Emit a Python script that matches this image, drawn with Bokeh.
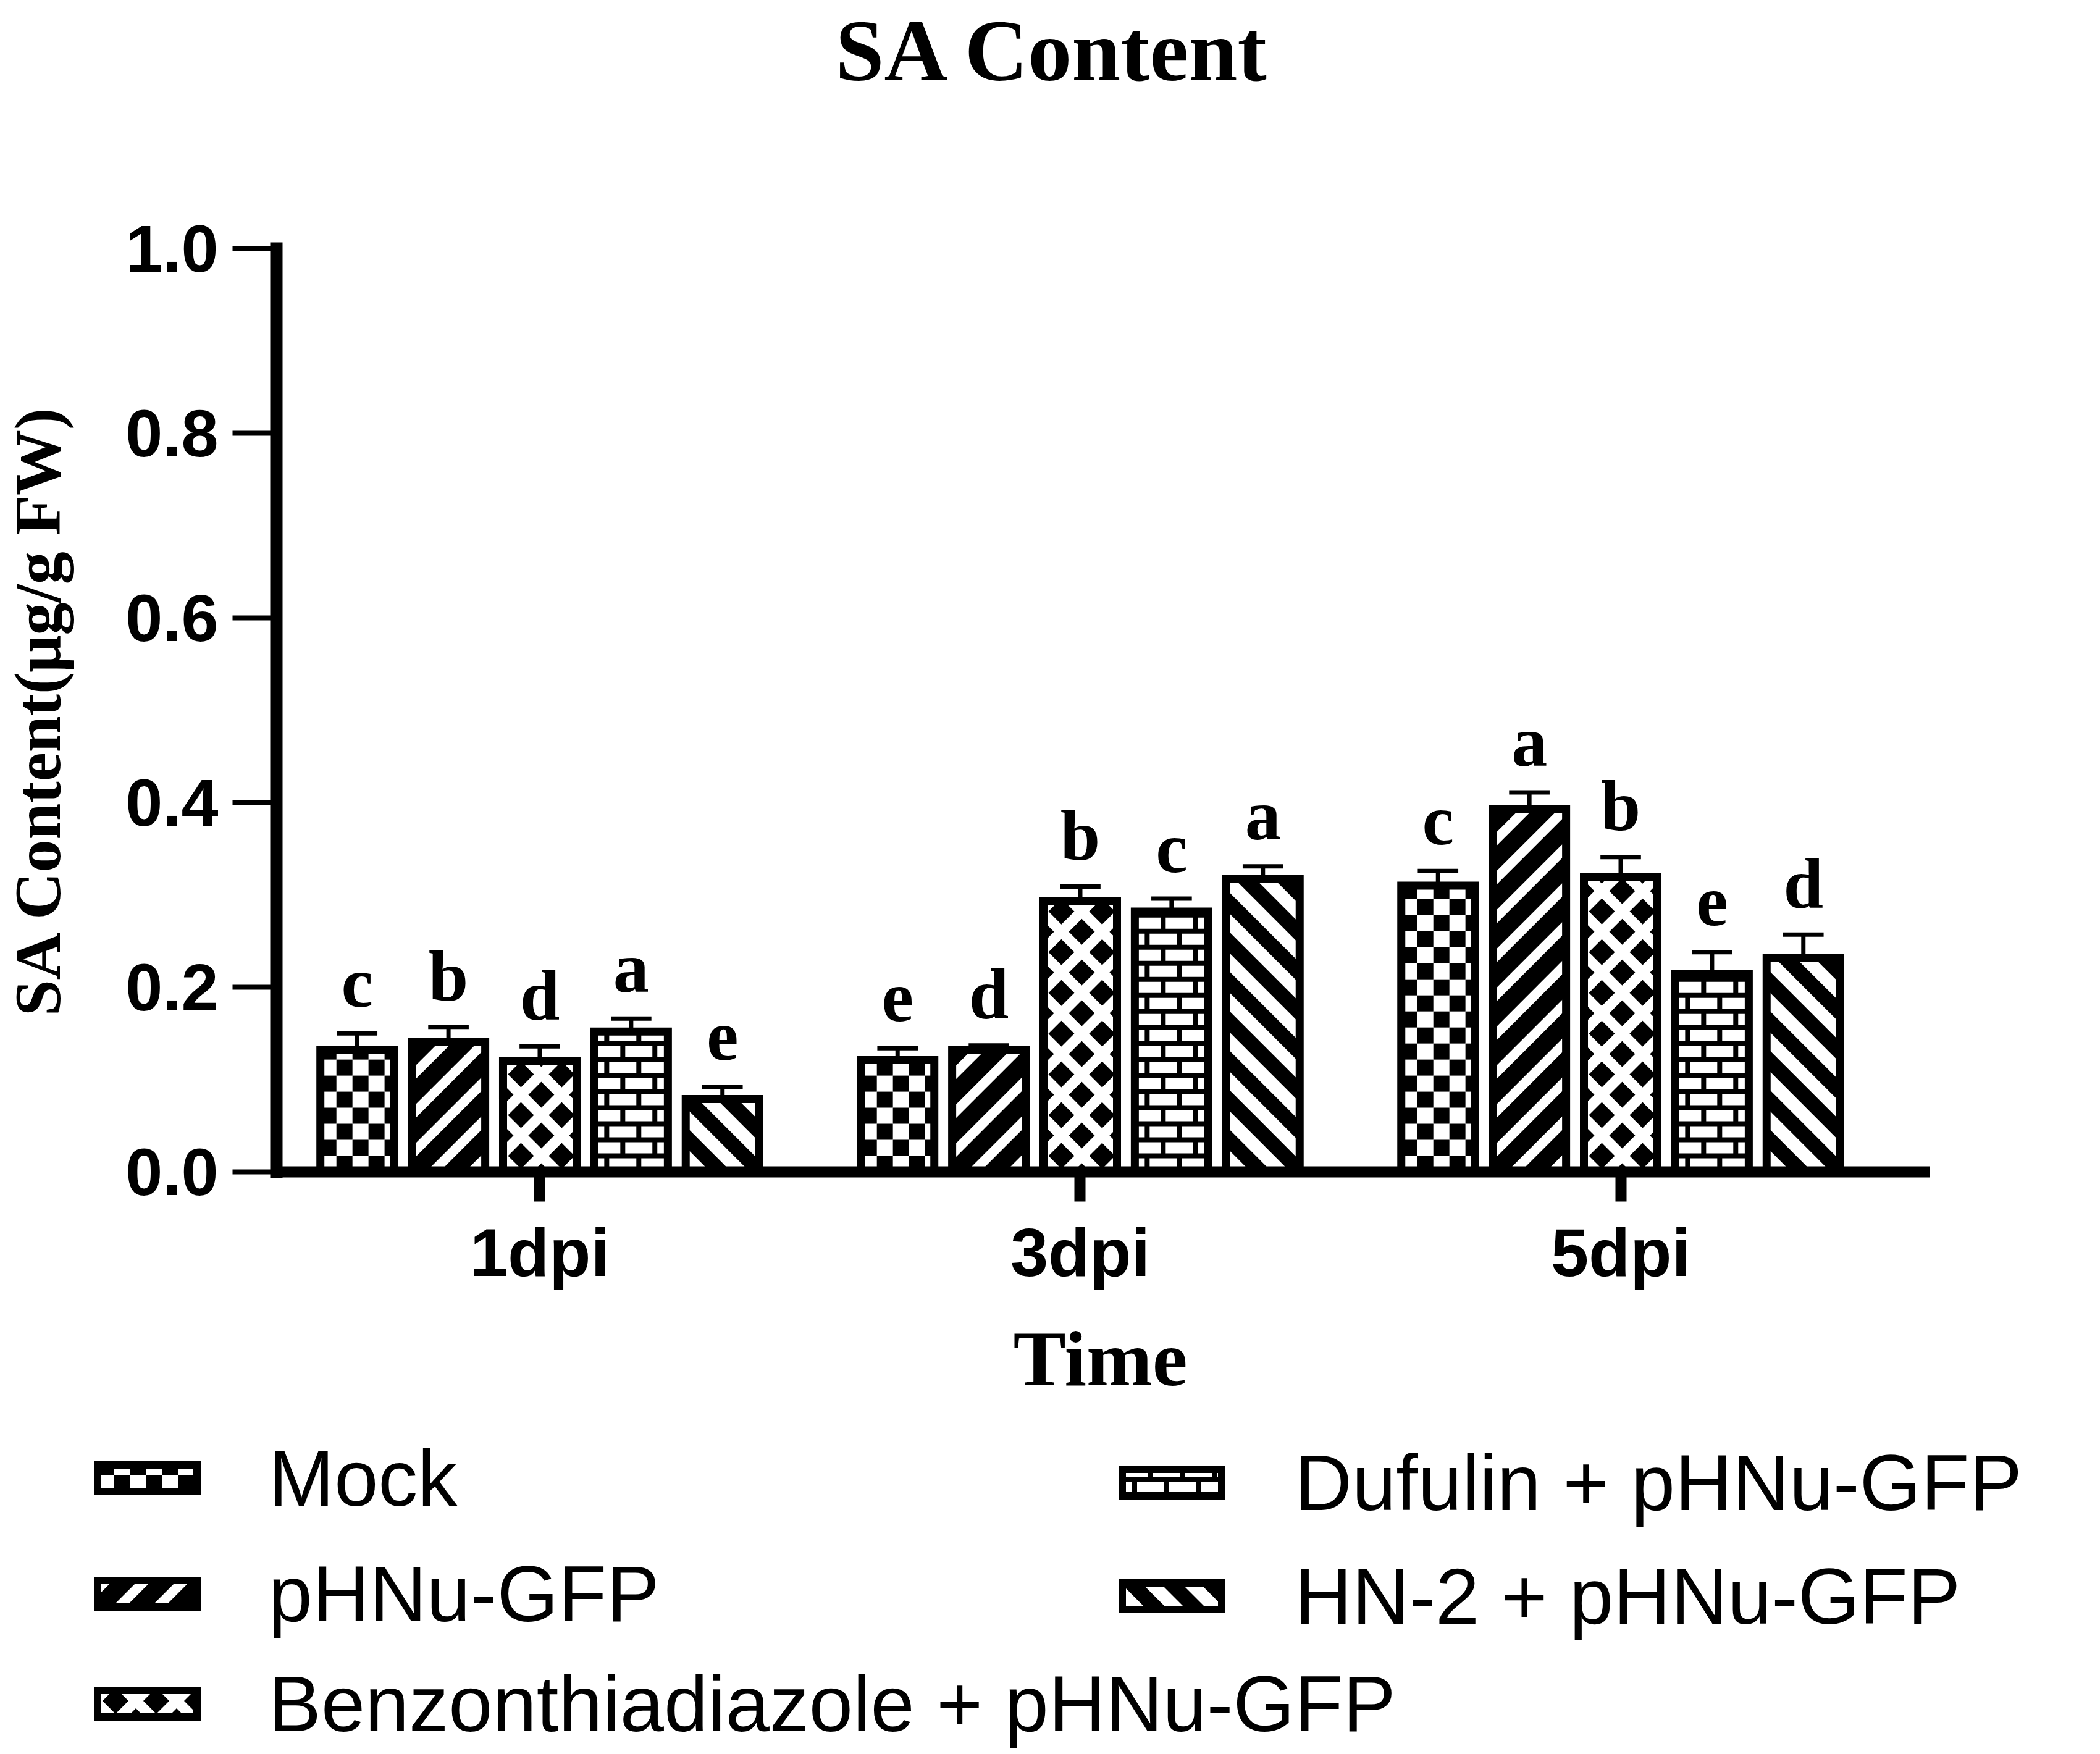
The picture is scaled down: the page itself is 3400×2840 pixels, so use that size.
from bokeh.plotting import figure
from bokeh.models import (Range1d, FixedTicker, PrintfTickFormatter, ColumnDataSource,
                          Title)
from bokeh.core.properties import value
from bokeh.embed import file_html
from bokeh.resources import INLINE

# ---------------- data ----------------
groups = ["1dpi", "3dpi", "5dpi"]
treatments = ["Mock", "pHNu-GFP", "Benzonthiadiazole + pHNu-GFP",
              "Dufulin + pHNu-GFP", "HN-2 + pHNu-GFP"]
mock = [0.132, 0.121, 0.310]
phnu = [0.141, 0.132, 0.393]
bth = [0.120, 0.293, 0.319]
dufulin = [0.152, 0.282, 0.214]
hn2 = [0.079, 0.317, 0.232]
mock_err = [0.018, 0.013, 0.016]
phnu_err = [0.016, 0.005, 0.018]
bth_err = [0.016, 0.016, 0.022]
dufulin_err = [0.014, 0.014, 0.024]
hn2_err = [0.013, 0.014, 0.025]
mock_sig = ["c", "e", "c"]
phnu_sig = ["b", "d", "a"]
bth_sig = ["d", "b", "b"]
dufulin_sig = ["a", "c", "e"]
hn2_sig = ["e", "a", "d"]
y_ticks = [0.0, 0.2, 0.4, 0.6, 0.8, 1.0]

series = [mock, phnu, bth, dufulin, hn2]
errors = [mock_err, phnu_err, bth_err, dufulin_err, hn2_err]
letters = [mock_sig, phnu_sig, bth_sig, dufulin_sig, hn2_sig]

# ---------------- fill patterns (style only) ----------------
styles = [("checker", "white", "black"),
          ("slash", "black", "white"),
          ("lattice", "black", "white"),
          ("brick", "white", "black"),
          ("back", "black", "white")]


def _clip(pts, inside, inter):
    out = []
    n = len(pts)
    for i in range(n):
        cur, prev = pts[i], pts[i - 1]
        if inside(cur):
            if not inside(prev):
                out.append(inter(prev, cur))
            out.append(cur)
        elif inside(prev):
            out.append(inter(prev, cur))
    return out


def clip_rect(poly, W, H):
    def ix(a, b, xv):
        t = (xv - a[0]) / (b[0] - a[0])
        return (xv, a[1] + t * (b[1] - a[1]))

    def iy(a, b, yv):
        t = (yv - a[1]) / (b[1] - a[1])
        return (a[0] + t * (b[0] - a[0]), yv)

    pts = poly
    for inside, inter in ((lambda q: q[0] >= 0, lambda a, b: ix(a, b, 0)),
                          (lambda q: q[0] <= W, lambda a, b: ix(a, b, W)),
                          (lambda q: q[1] >= 0, lambda a, b: iy(a, b, 0)),
                          (lambda q: q[1] <= H, lambda a, b: iy(a, b, H))):
        if len(pts) < 3:
            return []
        pts = _clip(pts, inside, inter)
    return pts if len(pts) >= 3 else []


def rect(x0, y0, x1, y1):
    return [(x0, y0), (x1, y0), (x1, y1), (x0, y1)]


def pattern_polys(kind, W, H):
    polys = []
    if kind == "checker":
        c = 26
        for i in range(int(W // c) + 1):
            for j in range(int(H // c) + 1):
                if (i + j) % 2 == 1:
                    polys.append(rect(i * c, j * c, (i + 1) * c, (j + 1) * c))
    elif kind in ("slash", "lattice"):
        P, T = (63, 22) if kind == "slash" else (66, 24)
        for k in range(-int(W // P) - 2, int(H // P) + 2):
            c0 = k * P + 18
            c1 = c0 + T
            polys.append([(0, c0), (W, W + c0), (W, W + c1), (0, c1)])
    if kind in ("back", "lattice"):
        P, T = (64, 30) if kind == "back" else (66, 24)
        for k in range(0, int((H + W) // P) + 3):
            c0 = k * P + 10
            c1 = c0 + T
            polys.append([(0, c0), (W, c0 - W), (W, c1 - W), (0, c1)])
    if kind == "brick":
        R, B, t = 26, 52, 8
        for k in range(int(H // R) + 2):
            y0 = k * R
            polys.append(rect(0, y0 - t / 2, W, y0 + t / 2))
            for m in range(-1, int(W // B) + 2):
                x0 = (k % 2) * B / 2 + m * B + 20
                polys.append(rect(x0 - t / 2, y0, x0 + t / 2, y0 + R))
    out = []
    for poly in polys:
        cp = clip_rect(poly, W, H)
        if cp:
            out.append(cp)
    return out


def draw_patterned(fig, lefts, bottoms, widths, heights, xpx, ypx, style, lw):
    kind, bg, ink = style
    rights = [l + w for l, w in zip(lefts, widths)]
    tops = [b + h for b, h in zip(bottoms, heights)]
    fig.quad(left=lefts, right=rights, bottom=bottoms, top=tops,
             fill_color=bg, line_color=None)
    pxs, pys = [], []
    for l, b, w, h in zip(lefts, bottoms, widths, heights):
        for poly in pattern_polys(kind, w * xpx, h * ypx):
            pxs.append([l + px / xpx for px, _ in poly])
            pys.append([b + py / ypx for _, py in poly])
    if pxs:
        fig.patches(xs=pxs, ys=pys, fill_color=ink, line_color=None)
    fig.quad(left=lefts, right=rights, bottom=bottoms, top=tops,
             fill_color=None, line_color="black", line_width=lw,
             line_join="miter")


SERIF = "Liberation Serif"
SANS = "Liberation Sans"

W = 3384
H1 = 2290
FRAME_L, FRAME_R, FRAME_T, FRAME_B = 444, 3115, 401, 1897
X0, X1 = 0.5126, 3.5617
Y0, Y1 = 0.0, 1.0
XPX = (FRAME_R - FRAME_L) / (X1 - X0)
YPX = (FRAME_B - FRAME_T) / (Y1 - Y0)

p = figure(width=W, height=H1, title="SA Content",
           x_range=Range1d(X0, X1), y_range=Range1d(Y0, Y1),
           output_backend="svg", toolbar_location=None,
           min_border_left=FRAME_L, min_border_right=W - FRAME_R,
           min_border_top=FRAME_T, min_border_bottom=H1 - FRAME_B)
p.outline_line_color = None
p.grid.visible = False
p.background_fill_color = "white"
p.border_fill_color = "white"

p.title.text_font = SERIF
p.title.text_font_size = "142px"
p.title.text_font_style = "bold"
p.title.text_color = "black"
p.title.align = "left"
p.title.offset = 905
p.title.standoff = 0
# invisible spacer between the title and the frame
p.add_layout(Title(text=" ", text_font=SERIF, text_font_size="10px",
                   standoff=229, text_color="white"), "above")

# x axis
xa = p.xaxis[0]
xa.ticker = FixedTicker(ticks=[i + 1 for i in range(len(groups))])
xa.major_label_overrides = {i + 1: g for i, g in enumerate(groups)}
xa.axis_label = "Time"
xa.axis_label_text_font = SERIF
xa.axis_label_text_font_size = "128px"
xa.axis_label_text_font_style = "bold"
xa.axis_label_text_color = "black"
xa.axis_label_standoff = 37
xa.major_label_text_font = SANS
xa.major_label_text_font_size = "110px"
xa.major_label_text_font_style = "bold"
xa.major_label_text_color = "black"
xa.major_label_standoff = 20
xa.axis_line_width = 18
xa.axis_line_cap = "square"
xa.major_tick_line_width = 18
xa.major_tick_in = 0
xa.major_tick_out = 48
xa.minor_tick_line_color = None

# y axis
ya = p.yaxis[0]
ya.ticker = FixedTicker(ticks=y_ticks)
ya.formatter = PrintfTickFormatter(format="%.1f")
ya.axis_label = "SA Content(μg/g FW)"
ya.axis_label_text_font = SERIF
ya.axis_label_text_font_size = "106px"
ya.axis_label_text_font_style = "bold"
ya.axis_label_text_color = "black"
ya.axis_label_standoff = 80
ya.major_label_text_font = SANS
ya.major_label_text_font_size = "108px"
ya.major_label_text_font_style = "bold"
ya.major_label_text_color = "black"
ya.major_label_standoff = 23
ya.axis_line_width = 20
ya.axis_line_cap = "square"
ya.major_tick_line_width = 8
ya.major_tick_in = 0
ya.major_tick_out = 71
ya.minor_tick_line_color = None

# bars
pitch = 0.169
bar_w = 0.136
cap_w = 0.075
label_gap = 0.055
for i, (vals, errs, sig) in enumerate(zip(series, errors, letters)):
    off = (i - 2) * pitch
    xs = [g + 1 + off for g in range(len(groups))]
    draw_patterned(p, [x - bar_w / 2 for x in xs], [0] * len(xs),
                   [bar_w] * len(xs), vals, XPX, YPX, styles[i], 13)
    tops = [v + e for v, e in zip(vals, errs)]
    src = ColumnDataSource(dict(
        x=xs, top=vals, etop=tops,
        cl=[x - cap_w / 2 for x in xs], cr=[x + cap_w / 2 for x in xs],
        ly=[t + label_gap for t in tops], lab=sig))
    p.segment(x0="x", y0="top", x1="x", y1="etop", source=src,
              line_color="black", line_width=7)
    p.segment(x0="cl", y0="etop", x1="cr", y1="etop", source=src,
              line_color="black", line_width=7)
    p.text(x="x", y="ly", text="lab", source=src, text_font=value(SERIF),
           text_font_style="bold", text_font_size="116px",
           text_align="center", text_baseline="alphabetic", text_color="black")

# ---------------- legend (own root, pixel coordinates, y up) ----------------
H2 = 548
leg = figure(width=W, height=H2, x_range=Range1d(0, W), y_range=Range1d(0, H2),
             output_backend="svg", toolbar_location=None, min_border=0)
leg.outline_line_color = None
leg.background_fill_color = "white"
leg.border_fill_color = "white"
leg.axis.visible = False
leg.grid.visible = False

sw_cx = [238, 238, 238, 1897, 1897]
sw_cy = [H2 - 103, H2 - 290, H2 - 468, H2 - 110, H2 - 294]
tx_x = [434, 434, 434, 2096, 2096]
SW_W, SW_H = 161, 43
for i, name in enumerate(treatments):
    draw_patterned(leg, [sw_cx[i] - SW_W / 2], [sw_cy[i] - SW_H / 2],
                   [SW_W], [SW_H], 1.0, 1.0, styles[i], 12)
    leg.text(x=[tx_x[i]], y=[sw_cy[i]], text=[name], text_font=value(SANS),
             text_font_size="128px", text_align="left",
             text_baseline="alphabetic", text_color="black")

open("out.html", "w").write(file_html([p, leg], INLINE))
